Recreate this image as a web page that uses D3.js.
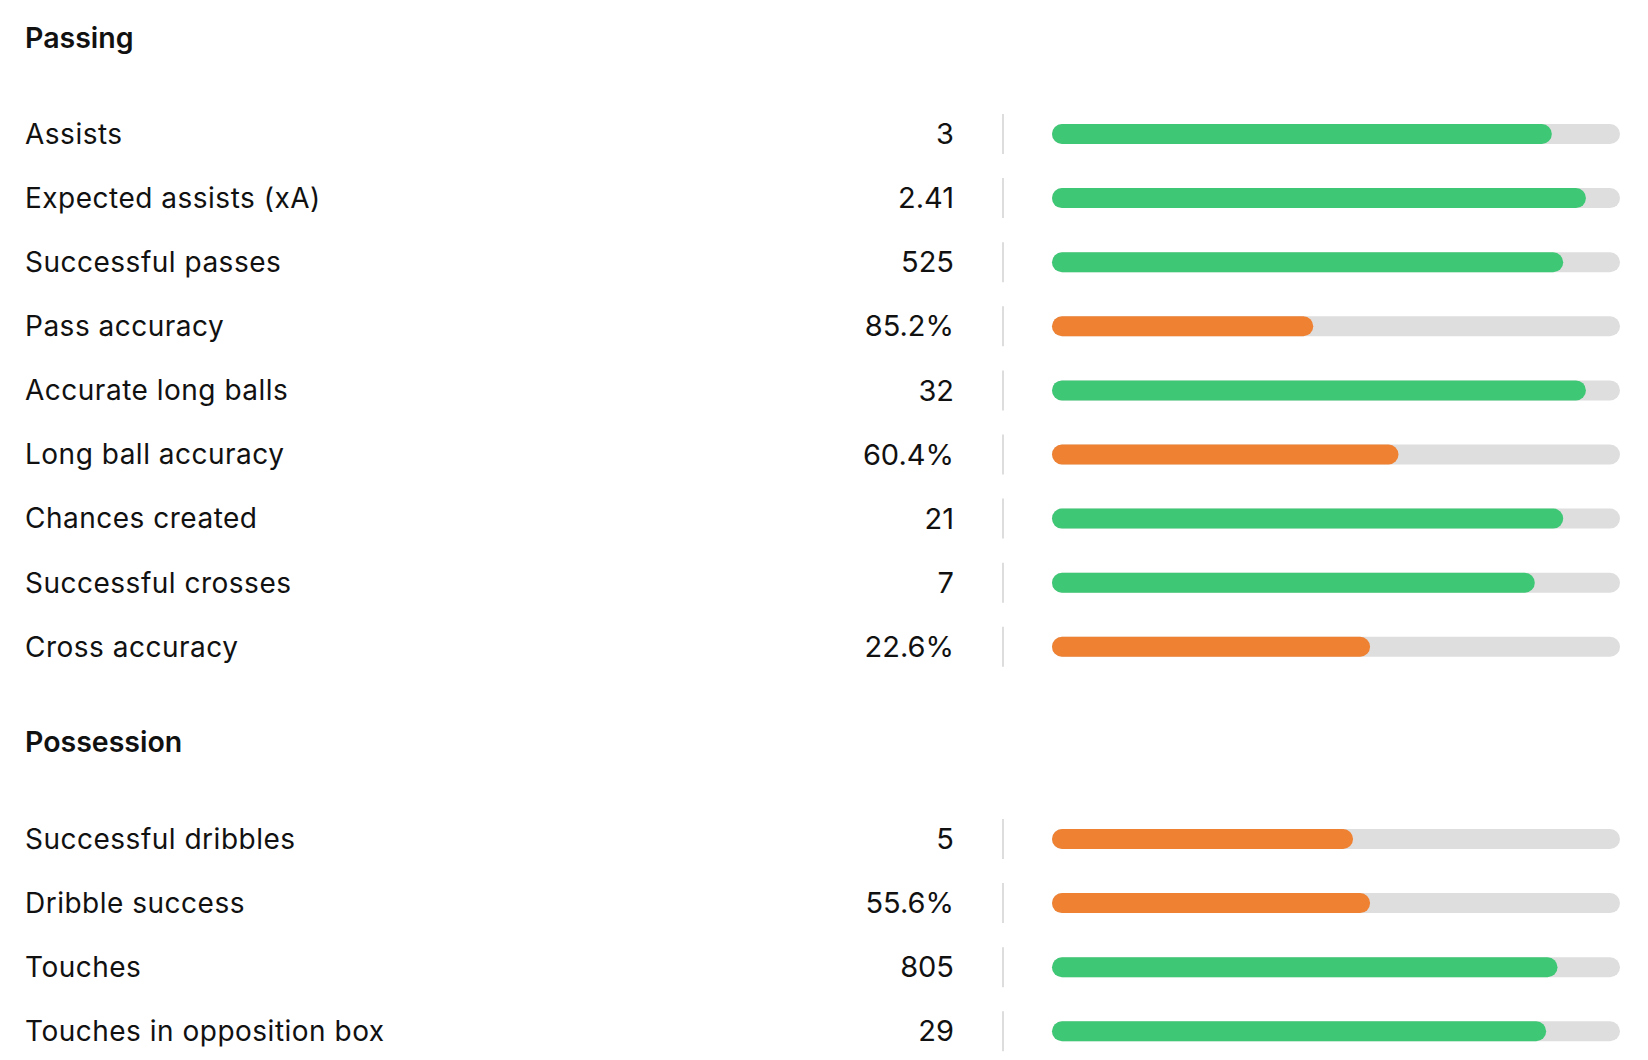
<!DOCTYPE html>
<html>
<head>
<meta charset="utf-8">
<script src="https://cdn.jsdelivr.net/npm/d3@7"></script>
<style>
  body { margin: 0; background: #fff; }
  svg { display: block; font-family: Inter, "Noto Sans", sans-serif; }
</style>
</head>
<body>
<svg width="1648" height="1060"></svg>
<script>
var passingLabels = ["Assists", "Expected assists (xA)", "Successful passes", "Pass accuracy",
  "Accurate long balls", "Long ball accuracy", "Chances created", "Successful crosses", "Cross accuracy"];
var passingValues = ["3", "2.41", "525", "85.2%", "32", "60.4%", "21", "7", "22.6%"];
var passingPercentiles = [88, 94, 90, 46, 94, 61, 90, 85, 56];

var possessionLabels = ["Successful dribbles", "Dribble success", "Touches", "Touches in opposition box"];
var possessionValues = ["5", "55.6%", "805", "29"];
var possessionPercentiles = [53, 56, 89, 87];

var width = 1648;
var height = 1060;
var labelX = 25;
var valueX = 954;
var sepX = 1003;
var track = {left: 1052, right: 1620, height: 20};
var rowStep = 64.1;

var sections = [
  {title: "Passing", titleY: 38, firstRow: 134, labels: passingLabels, values: passingValues, pct: passingPercentiles},
  {title: "Possession", titleY: 742, firstRow: 839, labels: possessionLabels, values: possessionValues, pct: possessionPercentiles}
];

var barScale = d3.scaleLinear().domain([0, 100]).range([0, track.right - track.left]);

function barColor (p) {
  if (p >= 66) return "#3ec775";
  if (p >= 33) return "#ee8132";
  return "#e55e5b";
}

var svg = d3.select('svg');

sections.forEach(function (sec) {
  var rows = sec.labels.map(function (l, i) {
    return {label: l, value: sec.values[i], pct: sec.pct[i]};
  });
  var yScale = d3.scaleLinear()
    .domain([0, 1])
    .range([sec.firstRow, sec.firstRow + rowStep]);

  svg.append("text")
    .attr("x", labelX)
    .attr("y", sec.titleY)
    .attr("dy", "0.35em")
    .attr("font-size", 28.5)
    .attr("font-weight", 600)
    .attr("fill", "#111")
    .text(sec.title);

  var g = svg.append("g").selectAll("g")
    .data(rows)
    .enter()
    .append("g")
    .attr("transform", function (d, i) { return "translate(0," + yScale(i) + ")"; });

  g.append("text")
    .attr("x", labelX)
    .attr("dy", "0.35em")
    .attr("font-size", 28)
    .attr("letter-spacing", 0.5)
    .attr("fill", "#111")
    .text(function (d) { return d.label; });

  g.append("text")
    .attr("x", valueX)
    .attr("dy", "0.35em")
    .attr("font-size", 29)
    .attr("text-anchor", "end")
    .attr("fill", "#111")
    .text(function (d) { return d.value; });

  g.append("line")
    .attr("x1", sepX).attr("x2", sepX)
    .attr("y1", -20).attr("y2", 20)
    .attr("stroke", "#dddddd")
    .attr("stroke-width", 2);

  // grey track
  g.append("rect")
    .attr("x", track.left)
    .attr("y", -track.height / 2)
    .attr("width", track.right - track.left)
    .attr("height", track.height)
    .attr("rx", track.height / 2)
    .attr("fill", "#dedede");

  g.append("rect")
    .attr("x", track.left)
    .attr("y", -track.height / 2)
    .attr("width", function (d) { return barScale(d.pct); })
    .attr("height", track.height)
    .attr("rx", track.height / 2)
    .attr("fill", function (d) { return barColor(d.pct); });
});
</script>
</body>
</html>
